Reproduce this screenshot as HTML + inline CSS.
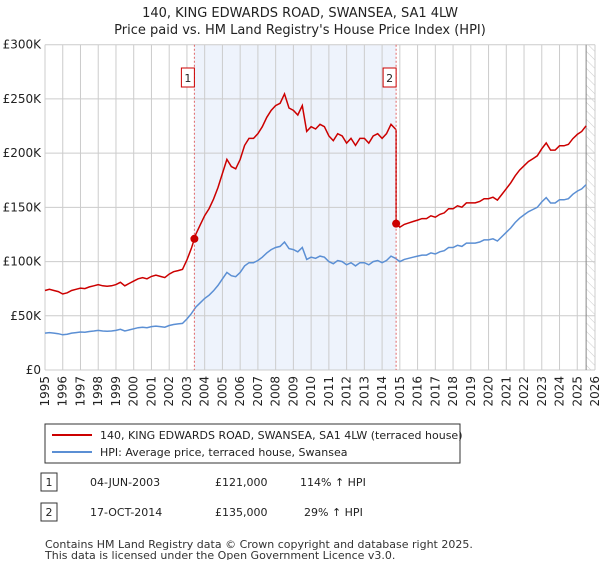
<!DOCTYPE html>
<html><head><meta charset="utf-8"><style>
body{margin:0;background:#fff;font-family:"Liberation Sans","DejaVu Sans",sans-serif;}
svg text{font-family:"DejaVu Sans","Liberation Sans",sans-serif;}
</style></head><body>
<svg id="c" width="600" height="560" xmlns="http://www.w3.org/2000/svg">
<defs><pattern id="hatch" width="6" height="6" patternUnits="userSpaceOnUse" patternTransform="rotate(-45)"><line x1="0" y1="0" x2="0" y2="6" stroke="#ccc" stroke-width="1"/></pattern></defs>
<text x="300" y="17" text-anchor="middle" font-size="13" fill="#222">140, KING EDWARDS ROAD, SWANSEA, SA1 4LW</text>
<text x="300" y="34" text-anchor="middle" font-size="13" fill="#222">Price paid vs. HM Land Registry's House Price Index (HPI)</text>
<g id="plot"></g>
<g>
<rect x="45" y="424" width="415" height="39" fill="#fff" stroke="#333" stroke-width="1"/>
<line x1="52" y1="435" x2="92" y2="435" stroke="#cc0000" stroke-width="2"/>
<text x="100" y="439" font-size="11" fill="#222">140, KING EDWARDS ROAD, SWANSEA, SA1 4LW (terraced house)</text>
<line x1="52" y1="452" x2="92" y2="452" stroke="#5b8fd4" stroke-width="2"/>
<text x="100" y="456" font-size="11" fill="#222">HPI: Average price, terraced house, Swansea</text>
</g>
<g font-size="11" fill="#222">
<rect x="41" y="473" width="16" height="18" fill="#fff" stroke="#333"/>
<text x="49" y="486" text-anchor="middle">1</text>
<text x="90" y="486">04-JUN-2003</text><text x="215" y="486">£121,000</text><text x="300" y="486">114% ↑ HPI</text>
<rect x="41" y="503" width="16" height="18" fill="#fff" stroke="#333"/>
<text x="49" y="516" text-anchor="middle">2</text>
<text x="90" y="516">17-OCT-2014</text><text x="215" y="516">£135,000</text><text x="304" y="516">29% ↑ HPI</text>
</g>
<text x="45" y="548" font-size="11" fill="#333">Contains HM Land Registry data © Crown copyright and database right 2025.</text>
<text x="45" y="559" font-size="11" fill="#333">This data is licensed under the Open Government Licence v3.0.</text>
</svg>
<script>
const hpiStartYear = 1995;
const hpiValues = [34,34.5,34,33.5, 32.5,33,34,34.5, 35,34.8,35.5,36, 36.5,36,35.8,36, 36.5,37.5,36,37,
 38,39,39.5,39, 40,40.5,40,39.5, 41,42,42.5,43, 47,52,58,62, 66,69,73,78, 84,90,87,86, 90,96,99,99,
 101,104,108,111, 113,114,118,112, 111,109,113,102, 104,103,105,104, 100,98,101,100, 97,99,96,99,
 99,97,100,101, 99,101,105,103, 100,102,103,104, 105,106,106,108, 107,109,110,113, 113,115,114,117,
 117,117,118,120, 120,121,119,123, 127,131,136,140, 143,146,148,150, 155,159,154,154, 157,157,158,162,
 165,167,171];
const saleDates = [2003.42, 2014.79];
const salePrices = [121, 135];
const yTicks = [0,50,100,150,200,250,300];
const yTickLabels = ["£0","£50K","£100K","£150K","£200K","£250K","£300K"];
const xYears = [1995,1996,1997,1998,1999,2000,2001,2002,2003,2004,2005,2006,2007,2008,2009,2010,2011,2012,2013,2014,2015,2016,2017,2018,2019,2020,2021,2022,2023,2024,2025,2026];

const X0=45,X1=595,Y0=370,Y1=44.7;
const xs=t=>X0+(t-1995)/(2026-1995)*(X1-X0);
const ys=v=>Y0-v/300*(Y0-Y1);
const NS="http://www.w3.org/2000/svg";
const g=document.getElementById('plot');
function mk(tag,attrs,parent){const e=document.createElementNS(NS,tag);for(const k in attrs)e.setAttribute(k,attrs[k]);(parent||g).appendChild(e);return e;}
const hpiT=hpiValues.map((v,i)=>hpiStartYear+i*0.25);
function hpiAt(t){for(let i=0;i<hpiT.length-1;i++){if(t>=hpiT[i]&&t<=hpiT[i+1]){const f=(t-hpiT[i])/0.25;return hpiValues[i]+f*(hpiValues[i+1]-hpiValues[i]);}}return hpiValues[hpiValues.length-1];}

let r=mk('rect',{x:xs(saleDates[0]),y:Y1,width:xs(saleDates[1])-xs(saleDates[0]),height:Y0-Y1,fill:'#eef3fc'});


const lastT=hpiT[hpiT.length-1];
r=mk('rect',{x:xs(lastT),y:Y1,width:X1-xs(lastT),height:Y0-Y1,fill:'url(#hatch)'});


xYears.forEach(y=>{const l=mk('line',{x1:xs(y),x2:xs(y),y1:Y1,y2:Y0,stroke:'#cccccc','stroke-width':1});


const t=mk('text',{x:0,y:0,'font-size':12,fill:'#222','text-anchor':'end',transform:`translate(${xs(y)+4},${Y0+6}) rotate(-90)`});t.textContent=y;

});
yTicks.forEach((v,i)=>{const l=mk('line',{x1:X0,x2:X1,y1:ys(v),y2:ys(v),stroke:'#cccccc','stroke-width':1});


const t=mk('text',{x:X0-4,y:ys(v)+4,'font-size':12,fill:'#222','text-anchor':'end'});t.textContent=yTickLabels[i];

});
let ln=mk('line',{x1:xs(lastT),x2:xs(lastT),y1:Y1,y2:Y0,stroke:'#888','stroke-width':1});


let p=mk('path',{d:hpiT.map((t,i)=>(i?'L':'M')+xs(t).toFixed(1)+','+ys(hpiValues[i]).toFixed(1)).join(''),fill:'none',stroke:'#5b8fd4','stroke-width':1.5});


const ratios=[salePrices[0]/hpiAt(saleDates[0]),salePrices[0]/hpiAt(saleDates[0]),salePrices[1]/hpiAt(saleDates[1])];
function ratioAt(t){return t<saleDates[0]?ratios[0]:(t<saleDates[1]?ratios[1]:ratios[2]);}
let pts=[];
hpiT.forEach((t,i)=>{
 if(i>0&&hpiT[i-1]<saleDates[1]&&t>=saleDates[1]){pts.push([saleDates[1],hpiAt(saleDates[1])*ratios[1]]);pts.push([saleDates[1],salePrices[1]]);}
 pts.push([t,hpiValues[i]*ratioAt(t)]);});
p=mk('path',{d:pts.map((q,i)=>(i?'L':'M')+xs(q[0]).toFixed(1)+','+ys(q[1]).toFixed(1)).join(''),fill:'none',stroke:'#cc0000','stroke-width':1.5});


saleDates.forEach((d,i)=>{
 const l=mk('line',{x1:xs(d),x2:xs(d),y1:Y1,y2:Y0,stroke:'#e06666','stroke-width':1,'stroke-dasharray':'2,2'});
 
 
 const c=mk('circle',{cx:xs(d),cy:ys(salePrices[i]),r:4,fill:'#cc0000'});
 
 
 const b=mk('rect',{x:xs(d)-13,y:68,width:13,height:19,fill:'#fff',stroke:'#cc0000'});
 
 
 const t=mk('text',{x:xs(d)-6.5,y:82,'font-size':11,fill:'#222','text-anchor':'middle'});t.textContent=String(i+1);
 
 
});
</script>
</body></html>
